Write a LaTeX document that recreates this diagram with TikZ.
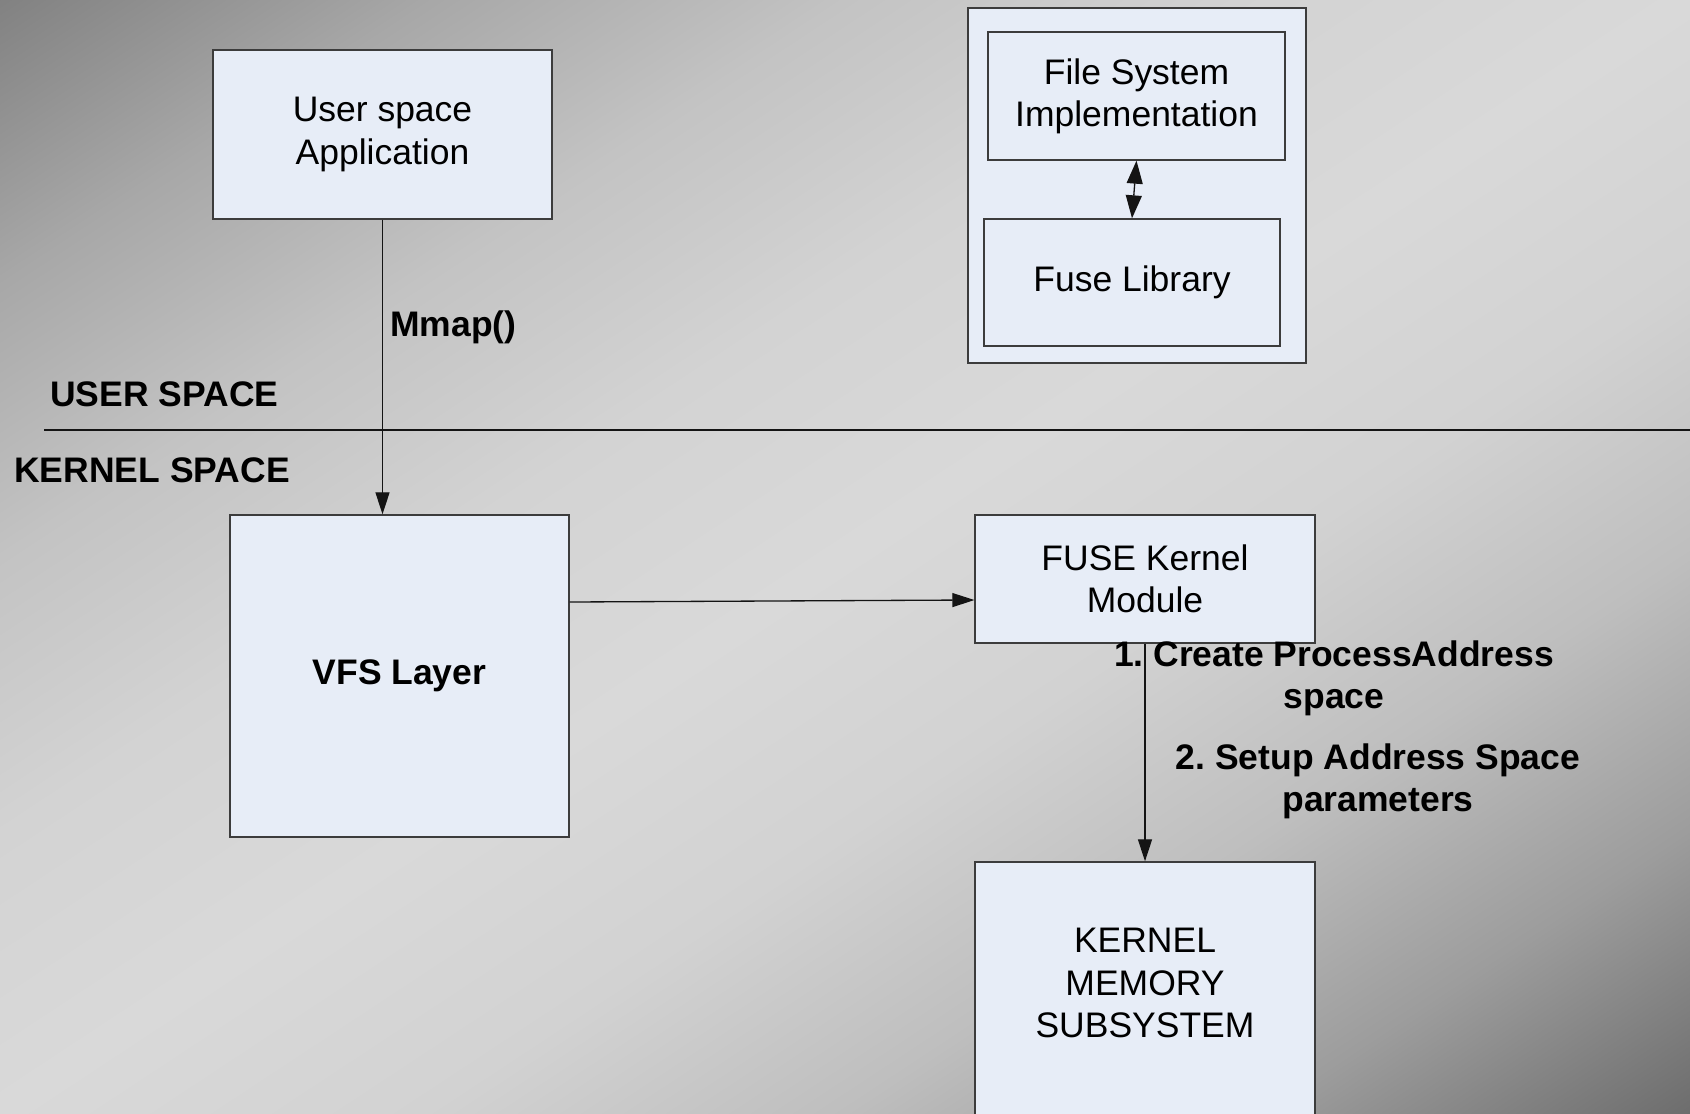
\documentclass[tikz,border=0pt]{standalone}
\usepackage{fontspec}
\setmainfont{Liberation Sans}
\usetikzlibrary{arrows.meta}
\frenchspacing

% box and line colours
\definecolor{boxfill}{RGB}{231,237,247}
\definecolor{boxline}{RGB}{60,60,60}
\definecolor{wire}{RGB}{20,20,20}
% background grey levels, from the light diagonal out to the corners
\definecolor{bgMid}{RGB}{217,217,217}
\definecolor{bgT1}{RGB}{211,211,211}
\definecolor{bgT2}{RGB}{195,195,195}
\definecolor{bgT3}{RGB}{167,167,167}
\definecolor{bgT4}{RGB}{127,127,127}
\definecolor{bgB1}{RGB}{210,210,210}
\definecolor{bgB2}{RGB}{190,190,190}
\definecolor{bgB3}{RGB}{156,156,156}
\definecolor{bgB4}{RGB}{106,106,106}

\newcommand\blocktext{\fontsize{20.2}{24}\selectfont}

\begin{document}
\begin{tikzpicture}[x=0.02cm,y=0.02cm,
  block/.style={draw=boxline, line width=0.8pt, fill=boxfill, inner sep=0pt,
    align=center, font=\blocktext},
  plain/.style={inner sep=0pt, align=center, font=\blocktext},
  tag/.style={inner sep=0pt, align=center, font=\blocktext\bfseries},
  conn/.style={draw=wire, line width=0.75pt,
    -{Triangle[length=0.44cm,width=0.28cm]}},
  bothway/.style={draw=wire, line width=0.75pt,
    {Triangle[length=0.46cm,width=0.32cm]}-{Triangle[length=0.46cm,width=0.32cm]}},
  rule/.style={draw=wire, line width=0.7pt}]

\useasboundingbox (0,0) rectangle (1690,1113);

% diagonal grey background: light along the lower-left to upper-right diagonal
\begin{scope}
  \clip (0,0) rectangle (1690,1113);
  \begin{scope}[transform canvas={shift={(845,556.5)},rotate=33.37}]
    \shade[bottom color=bgMid, top color=bgT1] (-1200,-1) rectangle (1200,233);
    \shade[bottom color=bgT1, top color=bgT2] (-1200,232) rectangle (1200,465);
    \shade[bottom color=bgT2, top color=bgT3] (-1200,464) rectangle (1200,698);
    \shade[bottom color=bgT3, top color=bgT4] (-1200,697) rectangle (1200,945);
    \shade[top color=bgMid, bottom color=bgB1] (-1200,1) rectangle (1200,-233);
    \shade[top color=bgB1, bottom color=bgB2] (-1200,-232) rectangle (1200,-465);
    \shade[top color=bgB2, bottom color=bgB3] (-1200,-464) rectangle (1200,-698);
    \shade[top color=bgB3, bottom color=bgB4] (-1200,-697) rectangle (1200,-945);
  \end{scope}
\end{scope}

% user / kernel boundary
\coordinate (divL) at (44,683);
\coordinate (divR) at (1690,683);
\draw[rule] (divL) -- (divR);
\node[tag, anchor=west] (userlbl) at (50,719) {USER SPACE};
\node[tag, anchor=west] (kernlbl) at (14,643) {KERNEL SPACE};

% user space side
\node[block, minimum width=6.78cm, minimum height=3.38cm] (app) at (382.5,978.5)
  {User space\\Application};
\node[block, minimum width=6.76cm, minimum height=7.10cm] (outer) at (1137,927.5) {};
\node[block, minimum width=5.94cm, minimum height=2.56cm] (fsimpl) at (1136.5,1017)
  {File System\\Implementation};
\node[block, minimum width=5.92cm, minimum height=2.54cm] (fuselib) at (1132,830.5)
  {Fuse Library};

% kernel side
\node[block, minimum width=6.78cm, minimum height=6.44cm] (vfs) at (399.5,437)
  {\bfseries VFS Layer};
\node[block, minimum width=6.80cm, minimum height=2.56cm] (fuse) at (1145,534)
  {FUSE Kernel\\Module};
\node[block, minimum width=6.80cm, minimum height=5.56cm] (kms) at (1145,112) {};
\node[plain] (kmstext) at (1145,130) {KERNEL\\MEMORY\\SUBSYSTEM};

% connectors
\draw[conn] (app.south) -- (app.south |- vfs.north);
\node[tag, anchor=west] (mmap) at (390,786) {Mmap()};
\draw[bothway] (fsimpl.south) -- (fuselib.north);
\draw[conn] ([yshift=1.48cm]vfs.east) -- ([yshift=-0.42cm]fuse.west);
\draw[conn] (fuse.south) -- (kms.north);

\node[tag] (step1) at (1334,435) {1. Create ProcessAddress\\space};
\node[tag] (step2) at (1378,331.5) {2. Setup Address Space\\parameters};

\end{tikzpicture}
\end{document}
